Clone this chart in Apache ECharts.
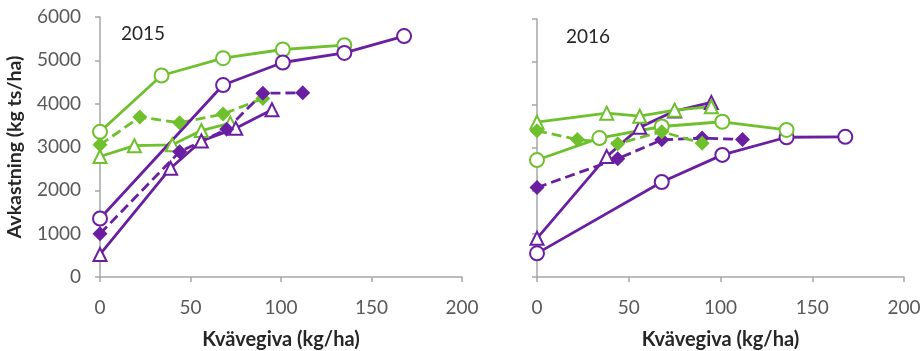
<!DOCTYPE html>
<html>
<head>
<meta charset="utf-8">
<script src="https://cdn.jsdelivr.net/npm/echarts@6/dist/echarts.min.js"></script>
<style>
html,body{margin:0;padding:0;background:#fff;}
#chart{width:922px;height:351px;}
</style>
</head>
<body>
<div id="chart"></div>
<script>
// ---- Data (x = Kvävegiva kg/ha, y = Avkastning kg ts/ha) ----
const xTicks = [0, 50, 100, 150, 200];
const yTicks = [0, 1000, 2000, 3000, 4000, 5000, 6000];
const panelTitles = ['2015', '2016'];

// 2015
const x15GreenCircle = [0, 34, 68, 101, 135];
const y15GreenCircle = [3350, 4650, 5050, 5250, 5350];
const x15PurpleCircle = [0, 68, 101, 135, 168];
const y15PurpleCircle = [1350, 4430, 4950, 5170, 5560];
const x15GreenDiamond = [0, 22, 44, 68, 90];
const y15GreenDiamond = [3050, 3690, 3560, 3760, 4120];
const x15PurpleDiamond = [0, 44, 70, 90, 112];
const y15PurpleDiamond = [1000, 2890, 3410, 4240, 4250];
const x15GreenTriangle = [0, 19, 40, 56, 72];
const y15GreenTriangle = [2780, 3030, 3050, 3380, 3550];
const x15PurpleTriangle = [0, 39, 56, 75, 95];
const y15PurpleTriangle = [520, 2510, 3140, 3430, 3860];

// 2016
const x16GreenCircle = [0, 34, 68, 101, 136];
const y16GreenCircle = [2720, 3230, 3500, 3610, 3420];
const x16PurpleCircle = [0, 68, 101, 136, 168];
const y16PurpleCircle = [550, 2210, 2840, 3250, 3260];
const x16GreenDiamond = [0, 22, 44, 68, 90];
const y16GreenDiamond = [3400, 3200, 3100, 3380, 3110];
const x16PurpleDiamond = [0, 44, 68, 90, 112];
const y16PurpleDiamond = [2080, 2750, 3190, 3230, 3200];
const x16GreenTriangle = [0, 38, 56, 75, 95];
const y16GreenTriangle = [3600, 3810, 3740, 3880, 3960];
const x16PurpleTriangle = [0, 38, 56, 75, 95];
const y16PurpleTriangle = [900, 2800, 3480, 3860, 4060];

// ---- Styling ----
const GREEN = '#6EC12D';
const PURPLE = '#6A1FA2';
const FONT = 'Lato, "Open Sans", sans-serif';
const AXIS_COLOR = '#A6A6A6';
const LABEL_COLOR = '#595959';

function pairs(xs, ys) { return xs.map((x, i) => [x, ys[i]]); }

function mkSeries(name, xs, ys, color, shape, dashed, panel) {
  const filled = shape === 'diamond';
  return {
    name: name,
    type: 'line',
    xAxisIndex: panel,
    yAxisIndex: panel,
    data: pairs(xs, ys),
    symbol: shape === 'circle' ? 'emptyCircle' : (shape === 'triangle' ? 'emptyTriangle' : 'diamond'),
    symbolSize: shape === 'circle' ? 14 : (shape === 'triangle' ? 13 : 15),
    showSymbol: true,
    lineStyle: { color: color, width: 2.8, type: dashed ? [10, 5] : 'solid' },
    itemStyle: { color: color, borderColor: color, borderWidth: filled ? 0 : 1.2 },
    emphasis: { disabled: true },
    animation: false,
    z: 3
  };
}

function xAxis(panel) {
  return {
    type: 'value', gridIndex: panel, min: 0, max: 200, interval: 50,
    name: 'Kvävegiva (kg/ha)', nameLocation: 'middle', nameGap: 53,
    nameTextStyle: { fontFamily: FONT, fontSize: 20, fontWeight: 'bold', color: '#262626' },
    axisLine: { show: true, onZero: false, lineStyle: { color: AXIS_COLOR, width: 1.5 } },
    axisTick: { show: true, inside: false, length: 5, lineStyle: { color: AXIS_COLOR, width: 1.5 } },
    axisLabel: { fontFamily: FONT, fontSize: 19, color: LABEL_COLOR, margin: 21,
      formatter: v => xTicks.includes(v) ? String(v) : '' },
    splitLine: { show: false }
  };
}

function yAxis(panel) {
  return {
    type: 'value', gridIndex: panel, min: 0, max: 6000, interval: 1000,
    name: panel === 0 ? 'Avkastning (kg ts/ha)' : '',
    nameLocation: 'middle', nameGap: 75, nameRotate: 90,
    nameTextStyle: { fontFamily: FONT, fontSize: 19.5, fontWeight: 'bold', color: '#262626' },
    axisLine: { show: true, onZero: false, lineStyle: { color: AXIS_COLOR, width: 1.5 } },
    axisTick: { show: true, inside: false, length: 5, lineStyle: { color: AXIS_COLOR, width: 1.5 } },
    axisLabel: { show: panel === 0, fontFamily: FONT, fontSize: 19, color: LABEL_COLOR, margin: 19,
      formatter: v => yTicks.includes(v) ? String(v) : '' },
    splitLine: { show: false }
  };
}

const chart = echarts.init(document.getElementById('chart'), null, { renderer: 'canvas' });
chart.setOption({
  backgroundColor: '#ffffff',
  animation: false,
  title: [
    { text: panelTitles[0], left: 116, top: 19, textStyle: { fontFamily: FONT, fontSize: 19, fontWeight: 'normal', color: '#262626' } },
    { text: panelTitles[1], left: 561, top: 22, textStyle: { fontFamily: FONT, fontSize: 19, fontWeight: 'normal', color: '#262626' } }
  ],
  grid: [
    { left: 100, right: 460, top: 17, bottom: 74, containLabel: false, outerBoundsMode: 'none' },
    { left: 537, right: 18, top: 19, bottom: 74, containLabel: false, outerBoundsMode: 'none' }
  ],
  xAxis: [xAxis(0), xAxis(1)],
  yAxis: [yAxis(0), yAxis(1)],
  series: [
    mkSeries('15 grön cirkel', x15GreenCircle, y15GreenCircle, GREEN, 'circle', false, 0),
    mkSeries('15 grön triangel', x15GreenTriangle, y15GreenTriangle, GREEN, 'triangle', false, 0),
    mkSeries('15 grön romb', x15GreenDiamond, y15GreenDiamond, GREEN, 'diamond', true, 0),
    mkSeries('15 lila cirkel', x15PurpleCircle, y15PurpleCircle, PURPLE, 'circle', false, 0),
    mkSeries('15 lila triangel', x15PurpleTriangle, y15PurpleTriangle, PURPLE, 'triangle', false, 0),
    mkSeries('15 lila romb', x15PurpleDiamond, y15PurpleDiamond, PURPLE, 'diamond', true, 0),
    mkSeries('16 lila cirkel', x16PurpleCircle, y16PurpleCircle, PURPLE, 'circle', false, 1),
    mkSeries('16 lila triangel', x16PurpleTriangle, y16PurpleTriangle, PURPLE, 'triangle', false, 1),
    mkSeries('16 lila romb', x16PurpleDiamond, y16PurpleDiamond, PURPLE, 'diamond', true, 1),
    mkSeries('16 grön cirkel', x16GreenCircle, y16GreenCircle, GREEN, 'circle', false, 1),
    mkSeries('16 grön triangel', x16GreenTriangle, y16GreenTriangle, GREEN, 'triangle', false, 1),
    mkSeries('16 grön romb', x16GreenDiamond, y16GreenDiamond, GREEN, 'diamond', true, 1)
  ]
});
</script>
</body>
</html>
